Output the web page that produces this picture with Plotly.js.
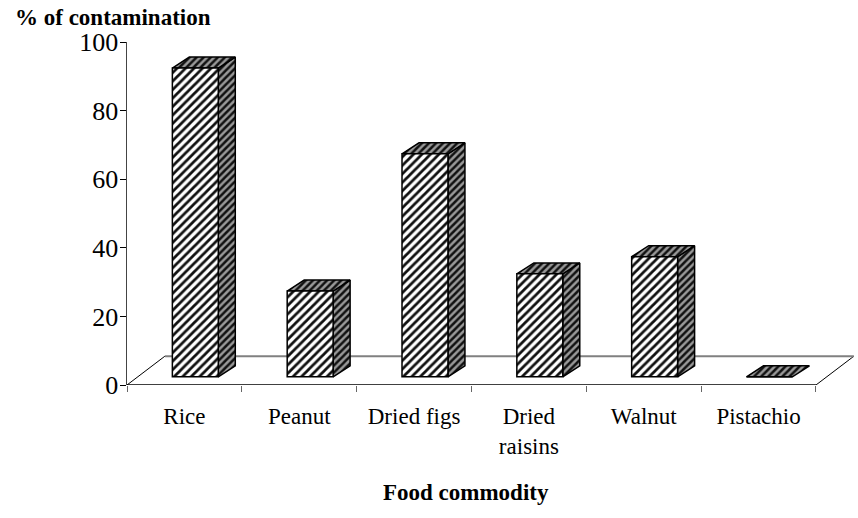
<!DOCTYPE html>
<html><head><meta charset="utf-8">
<script src="https://cdn.plot.ly/plotly-3.0.1.min.js"></script>
<style>html,body{margin:0;padding:0;background:#fff}</style></head>
<body><div id="chart" style="width:858px;height:518px"></div>
<script>
const categories = ['Rice','Peanut','Dried figs','Dried<br>raisins','Walnut','Pistachio'];
const contamination = [90,25,65,30,35,0];
const yTicks = [0,20,40,60,80,100];
const boundaries = [0,1,2,3,4,5,6];

// 3-D look expressed in axis units
const barShift = 0.095, barWidth = 0.4, floorLift = 2.4, depthX = 0.148, depthY = 3.2;
const backX = 0.33, backY = 8.4, xEnd = 6, xMax = 6.366;

const centers = categories.map((_, i) => i + 0.5 + barShift);
const pat = (fg, bg, size, sol) => ({shape:'/', fgcolor:fg, bgcolor:bg, size:size, solidity:sol, fillmode:'replace'});
const traces = [];
const lineTrace = (x,y,color,width) => ({type:'scatter',mode:'lines',x:x,y:y,line:{color:color,width:width},cliponaxis:false,hoverinfo:'skip'});

// floor
traces.push(lineTrace([0,backX],[0,backY],'#000',1));
traces.push(lineTrace([xEnd,xEnd+backX],[0,backY],'#000',1));
traces.push(lineTrace([backX,xEnd+backX],[backY,backY],'#808080',2));
traces.push(lineTrace([0,xEnd],[0,0],'#000',1.5));

// side and top faces
centers.forEach((c,i)=>{
  const l=c-barWidth/2, r=c+barWidth/2, b=floorLift, t=floorLift+contamination[i];
  if (contamination[i]>0) traces.push({type:'scatter',mode:'lines',fill:'toself',
    x:[r,r+depthX,r+depthX,r,r],y:[b,b+depthY,t+depthY,t,b],
    fillcolor:'#777',fillpattern:pat('#111','#999',5,0.5),line:{color:'#000',width:1.5},cliponaxis:false,hoverinfo:'skip'});
  traces.push({type:'scatter',mode:'lines',fill:'toself',
    x:[l,l+depthX,r+depthX,r,l],y:[t,t+depthY,t+depthY,t,t],
    fillcolor:'#777',fillpattern:pat('#111','#999',5,0.5),line:{color:'#000',width:1.5},cliponaxis:false,hoverinfo:'skip'});
});

// front faces, on an overlay so they cover the floor's back edge
traces.push({type:'bar',x:centers,y:contamination,base:floorLift,width:barWidth,xaxis:'x2',yaxis:'y2',
  marker:{color:'#fff',line:{color:'#000',width:1.5},pattern:pat('#111','#fff',6,0.46)},hoverinfo:'skip'});

const layout = {
  width:858,height:518,showlegend:false,paper_bgcolor:'#fff',plot_bgcolor:'rgba(0,0,0,0)',
  margin:{l:127,r:0,t:42,b:133,pad:0},
  font:{family:'"Liberation Serif", serif',color:'#000',size:20},
  xaxis:{range:[0,xMax],tickmode:'array',tickvals:categories.map((_,i)=>i+0.5),ticktext:categories,
    ticks:'',showgrid:false,zeroline:false,showline:false,
    tickfont:{size:23},ticklabelstandoff:15,
    minor:{tickmode:'array',tickvals:boundaries,ticks:'outside',ticklen:6,tickcolor:'#666',tickwidth:1,showgrid:false}},
  yaxis:{range:[0,100],tickmode:'array',tickvals:yTicks,ticks:'outside',ticklen:6,tickcolor:'#000',tickwidth:1,
    showgrid:false,zeroline:false,showline:true,linecolor:'#444',linewidth:1.5,tickfont:{size:26},ticklabelstandoff:-4},
  xaxis2:{overlaying:'x',range:[0,xMax],visible:false},
  yaxis2:{overlaying:'y',range:[0,100],visible:false},
  annotations:[
    {text:'<b>% of contamination</b>',xref:'paper',yref:'paper',x:-0.156,y:1.07,xanchor:'left',yanchor:'middle',showarrow:false,font:{size:23}},
    {text:'<b>Food commodity</b>',xref:'x',yref:'paper',x:2.95,y:-0.312,xanchor:'center',yanchor:'middle',showarrow:false,font:{size:23}}
  ]
};
Plotly.newPlot('chart',traces,layout,{displayModeBar:false,staticPlot:true});
</script></body></html>
